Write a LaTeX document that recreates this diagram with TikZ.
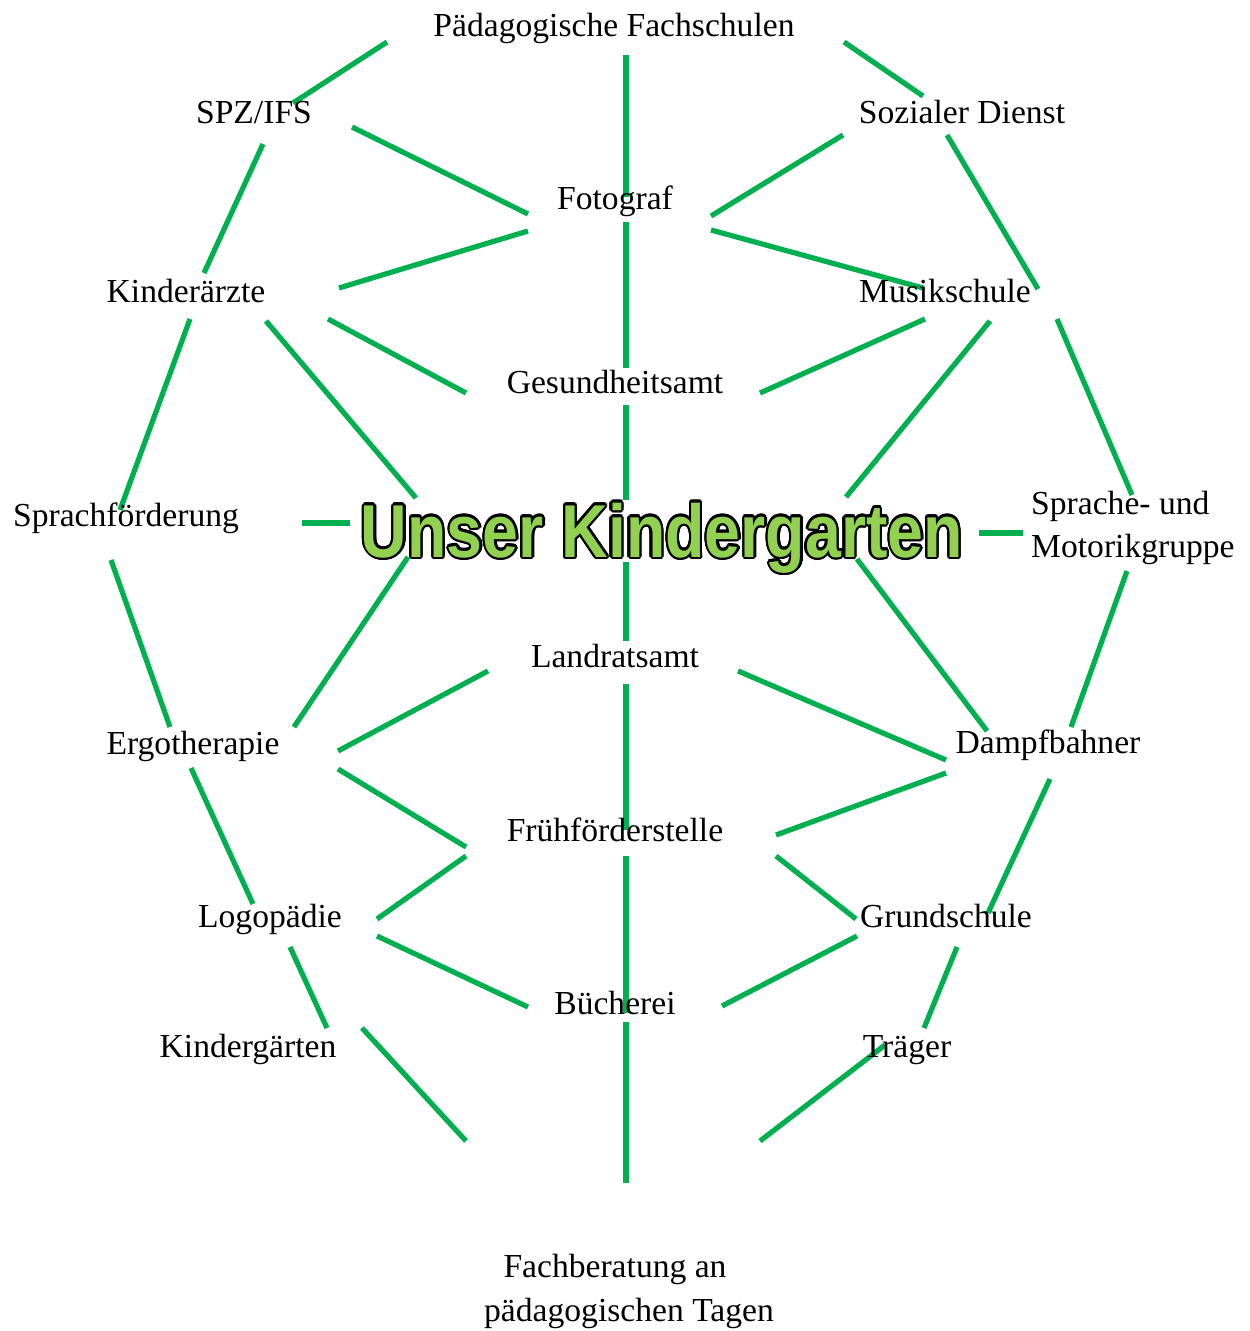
\documentclass[tikz,border=0pt]{standalone}
\usepackage{fontspec}
\usepackage{graphicx}
\setmainfont{Liberation Serif}
\newfontfamily\titlefont{Liberation Sans}
\usetikzlibrary{calc}
\definecolor{linegreen}{HTML}{00B050}
\definecolor{titlegreen}{HTML}{92D050}
\pgfdeclarelayer{bg}
\pgfdeclarelayer{lines}
\pgfsetlayers{bg,lines,main}
\tikzset{
  lbl/.style={inner sep=0pt, anchor=base, font=\fontsize{33.6}{44}\selectfont},
  link/.style={draw=linegreen, line width=5.2pt},
  ttl/.style={inner sep=0pt, anchor=base, font=\fontsize{75}{80}\selectfont\titlefont\bfseries},
}
\newcommand\lnk[4]{\draw[link] ([shift={(#2)}]#1) -- ([shift={(#4)}]#3);}
\begin{document}
\begin{tikzpicture}[x=1pt,y=-1pt]
\begin{pgfonlayer}{bg}
\fill[white] (0,0) rectangle (1250,1331);
\end{pgfonlayer}
\useasboundingbox (0,0) rectangle (1250,1331);

% labels
\node[lbl] (pf)   at (614,36)   {Pädagogische Fachschulen};
\node[lbl] (spz)  at (254,123)  {SPZ/IFS};
\node[lbl] (sd)   at (962,123)  {Sozialer Dienst};
\node[lbl] (foto) at (615,209)  {Fotograf};
\node[lbl] (ka)   at (186,302)  {Kinderärzte};
\node[lbl] (ms)   at (945,302)  {Musikschule};
\node[lbl] (ga)   at (615,393)  {Gesundheitsamt};
\node[lbl] (sf)   at (126,526)  {Sprachförderung};
\node[lbl, anchor=base west] (smg) at (1031,514)
  {\begin{tabular}[t]{@{}l@{}}Sprache- und\\[-1pt]Motorikgruppe\end{tabular}};
\node[lbl] (la)   at (615,667)  {Landratsamt};
\node[lbl] (ergo) at (193,754)  {Ergotherapie};
\node[lbl] (damp) at (1048,753) {Dampfbahner};
\node[lbl] (ff)   at (615,841)  {Frühförderstelle};
\node[lbl] (logo) at (270,927)  {Logopädie};
\node[lbl] (gs)   at (946,927)  {Grundschule};
\node[lbl] (bue)  at (615,1014) {Bücherei};
\node[lbl] (kgn)  at (248,1057) {Kindergärten};
\node[lbl] (tr)   at (907,1057) {Träger};
\node[lbl] (fb)   at (629,1277)
  {\begin{tabular}[t]{@{}c@{}}Fachberatung an\kern28pt\\pädagogischen Tagen\end{tabular}};

% title with outline
\foreach \i in {0,...,15}
  \node[ttl, text=black, name=kgo\i] at ($(662,557)+(\i*22.5:2.4)$)
    {\scalebox{0.86}[1]{Unser Kindergarten}};
\node[ttl, text=titlegreen] (kg) at (662,557) {\scalebox{0.86}[1]{Unser Kindergarten}};

\begin{pgfonlayer}{lines}
\lnk{pf.base}{-227,6}{spz.base}{39,-20}
\lnk{pf.base}{230,6}{sd.base}{-39,-27}
\lnk{pf.base}{12,19}{foto.base}{11,-12}
\lnk{spz.base}{9,21}{ka.base}{18,-29}
\lnk{spz.base}{98,4}{foto.base}{-87,5}
\lnk{foto.base}{-87,22}{ka.base}{153,-14}
\lnk{sd.base}{-119,12}{foto.base}{96,7}
\lnk{sd.base}{-15,12}{ms.base}{93,-13}
\lnk{foto.base}{96,21}{ms.base}{-22,-14}
\lnk{foto.base}{11,13}{ga.base}{11,-25}
\lnk{ka.base}{4,17}{sf.base}{-6,-16}
\lnk{ka.base}{80,19}{kg.base}{-246,-59}
\lnk{ka.base}{142,17}{ga.base}{-149,0}
\lnk{ms.base}{-20,17}{ga.base}{145,0}
\lnk{ms.base}{45,19}{kg.base}{184,-60}
\lnk{ms.base}{112,17}{smg.base west}{101,-19}
\lnk{ga.base}{11,12}{kg.base}{-36,-57}
\lnk{sf.base}{176,-3}{kg.base}{-312,-34}
\lnk{sf.base}{-15,34}{ergo.base}{-23,-27}
\lnk{kg.base}{317,-24}{smg.base west}{-8,19}
\lnk{kg.base}{-254,0}{ergo.base}{101,-27}
\lnk{kg.base}{195,2}{damp.base}{-61,-22}
\lnk{kg.base}{-36,5}{la.base}{11,-26}
\lnk{smg.base west}{96,57}{damp.base}{23,-26}
\lnk{la.base}{-127,4}{ergo.base}{145,-3}
\lnk{la.base}{123,4}{damp.base}{-102,7}
\lnk{la.base}{11,17}{ff.base}{11,-11}
\lnk{ergo.base}{145,15}{ff.base}{-149,6}
\lnk{ergo.base}{-2,14}{logo.base}{-17,-23}
\lnk{damp.base}{-102,20}{ff.base}{161,-6}
\lnk{damp.base}{2,26}{gs.base}{42,-14}
\lnk{ff.base}{-149,15}{logo.base}{107,-8}
\lnk{ff.base}{161,15}{gs.base}{-90,-8}
\lnk{ff.base}{11,15}{bue.base}{11,-1}
\lnk{logo.base}{107,9}{bue.base}{-87,-7}
\lnk{logo.base}{20,20}{kgn.base}{79,-29}
\lnk{gs.base}{-89,9}{bue.base}{107,-8}
\lnk{gs.base}{11,20}{tr.base}{17,-29}
\lnk{bue.base}{11,8}{fb.base}{-3,-94}
\lnk{kgn.base}{114,-29}{fb.base}{-163,-136}
\lnk{tr.base}{-22,-12}{fb.base}{131,-136}
\end{pgfonlayer}
\end{tikzpicture}
\end{document}
